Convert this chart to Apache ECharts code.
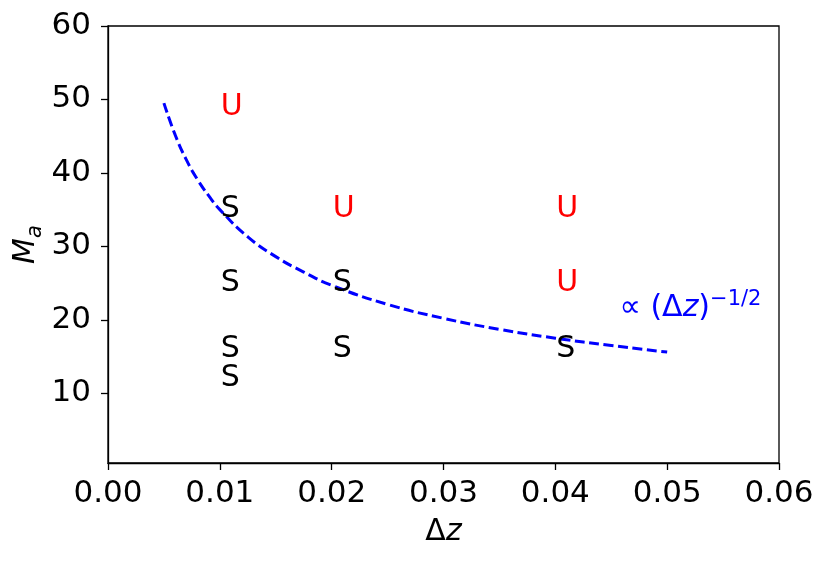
<!DOCTYPE html>
<html>
<head>
<meta charset="utf-8">
<script src="https://cdn.jsdelivr.net/npm/echarts@6/dist/echarts.min.js"></script>
<style>html,body{margin:0;padding:0;background:#fff}#c{width:830px;height:562px}</style>
</head>
<body>
<div id="c"></div>
<script>
// ---- data ----
var xTicks = [0, 0.01, 0.02, 0.03, 0.04, 0.05, 0.06];
var yTicks = [10, 20, 30, 40, 50, 60];
// dashed fit curve  M_a ∝ (Δz)^(-1/2)
var curveX = [0.005, 0.006, 0.007, 0.008, 0.009, 0.010, 0.0125, 0.015, 0.0175, 0.020, 0.025, 0.030, 0.035, 0.040, 0.045, 0.050];
var curveY = [49.5, 45.2, 41.8, 39.1, 36.9, 35.0, 31.3, 28.6, 26.5, 24.7, 22.1, 20.2, 18.7, 17.5, 16.5, 15.6];
// stable runs (S)
var stableX = [0.01, 0.01, 0.01, 0.01, 0.02, 0.02, 0.04];
var stableY = [35, 25, 16, 12, 25, 16, 16];
// unstable runs (U)
var unstableX = [0.01, 0.02, 0.04, 0.04];
var unstableY = [49, 35, 35, 25];
// annotation anchor
var annotX = [0.046];
var annotY = [21];

function zip(a, b) { return a.map(function (v, i) { return [v, b[i]]; }); }

var FONT = 'DejaVu Sans';
var chart = echarts.init(document.getElementById('c'), null, { renderer: 'canvas' });

function textSeries(xs, ys, letter, color) {
  return {
    type: 'scatter',
    data: zip(xs, ys),
    symbolSize: 0,
    silent: true,
    itemStyle: { opacity: 1 },
    label: {
      show: true,
      position: 'right',
      distance: 0,
      offset: [1, 0],
      formatter: letter,
      fontFamily: FONT,
      fontSize: 30,
      color: color,
      opacity: 1
    },
    z: 5
  };
}

var option = {
  animation: false,
  backgroundColor: '#ffffff',
  grid: {
    left: 108, right: 51, top: 26, bottom: 99,
    show: true, borderColor: '#000', borderWidth: 1.3, backgroundColor: 'transparent'
  },
  xAxis: {
    type: 'value',
    min: xTicks[0], max: xTicks[xTicks.length - 1], interval: 0.01,
    name: '{d|Δ}{z|z}',
    nameLocation: 'middle',
    nameGap: 54,
    nameTextStyle: {
      rich: {
        d: { fontFamily: FONT, fontSize: 30, color: '#000' },
        z: { fontFamily: FONT, fontSize: 30, fontStyle: 'italic', color: '#000' }
      }
    },
    axisLine: { show: true, lineStyle: { color: '#000', width: 1.3 } },
    axisTick: { show: true, length: 7, lineStyle: { color: '#000', width: 1.3 } },
    axisLabel: {
      margin: 15,
      fontFamily: FONT, fontSize: 31, color: '#000',
      formatter: function (v) { return v.toFixed(2); }
    },
    splitLine: { show: false }
  },
  yAxis: {
    type: 'value',
    min: 0.5, max: 60,
    name: '{m|M}{s|a}',
    nameLocation: 'middle',
    nameRotate: 90,
    nameGap: 62,
    nameMoveOverlap: false,
    nameTextStyle: {
      rich: {
        m: { fontFamily: FONT, fontSize: 30, fontStyle: 'italic', color: '#000', lineHeight: 40 },
        s: { fontFamily: FONT, fontSize: 21, fontStyle: 'italic', color: '#000', lineHeight: 21, verticalAlign: 'bottom' }
      }
    },
    axisLine: { show: true, lineStyle: { color: '#000', width: 1.3 } },
    axisTick: { show: true, length: 7, customValues: yTicks, lineStyle: { color: '#000', width: 1.3 } },
    axisLabel: {
      margin: 17,
      customValues: yTicks,
      fontFamily: FONT, fontSize: 31, color: '#000'
    },
    splitLine: { show: false }
  },
  series: [
    {
      type: 'line',
      data: zip(curveX, curveY),
      showSymbol: false,
      symbol: 'none',
      smooth: true,
      lineStyle: { color: '#0000ff', width: 3, type: [10, 4.5], opacity: 1 },
      z: 3
    },
    textSeries(stableX, stableY, 'S', '#000000'),
    textSeries(unstableX, unstableY, 'U', '#ff0000'),
    {
      type: 'scatter',
      data: zip(annotX, annotY),
      symbolSize: 0,
      silent: true,
      itemStyle: { opacity: 1 },
      label: {
        show: true,
        position: 'right',
        distance: 0,
        offset: [-3, -4],
        opacity: 1,
        formatter: '{m|∝ (Δ}{i|z}{m|)}{sup|−1/2}',
        rich: {
          m: { fontFamily: FONT, fontSize: 30, color: '#0000ff', lineHeight: 38 },
          i: { fontFamily: FONT, fontSize: 30, fontStyle: 'italic', color: '#0000ff', lineHeight: 38 },
          sup: { fontFamily: FONT, fontSize: 21, color: '#0000ff', lineHeight: 21, verticalAlign: 'top' }
        }
      },
      z: 5
    }
  ]
};
chart.setOption(option);
</script>
</body>
</html>
